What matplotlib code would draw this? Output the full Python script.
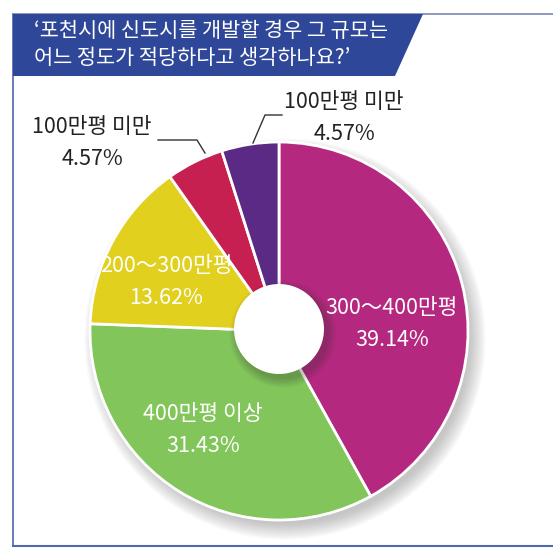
import matplotlib
matplotlib.use('Agg')
import matplotlib.pyplot as plt
from matplotlib.patches import Polygon, Circle

plt.rcParams['font.family'] = ['Noto Sans CJK KR', 'DejaVu Sans']

# data
title_lines = ['‘포천시에 신도시를 개발할 경우 그 규모는', '어느 정도가 적당하다고 생각하나요?’']
categories = ['300～400만평', '400만평 이상', '200～300만평', '100만평 미만', '100만평 미만']
values = [39.14, 31.43, 13.62, 4.57, 4.57]
colors = ['#b5287f', '#82c55b', '#e2d01f', '#c5204f', '#5b2a84']

W, H = 553, 549


def Y(y):
    # pixel row -> axes y
    return H - y


fig, ax = plt.subplots(figsize=(W / 100, H / 100), dpi=100)
fig.subplots_adjust(0, 0, 1, 1)

cx, cy, r = 279, Y(331), 189

# soft shadow under the pie
for i in range(14):
    ax.add_patch(Circle((cx + 6, cy - 8), r - 4 + i * 1.2, color='#707070',
                        alpha=0.03, lw=0, zorder=0))

wedges, _ = ax.pie(values, colors=colors, startangle=90, counterclock=False,
                   center=(cx, cy), radius=r,
                   wedgeprops=dict(edgecolor='white', linewidth=2))

# hole with a little shadow
hx, hy, hr = 279, Y(329), 45
for i in range(8):
    ax.add_patch(Circle((hx + 4, hy - 5), hr + i * 1.2, color='#303030',
                        alpha=0.04, lw=0, zorder=3))
ax.add_patch(Circle((hx, hy), hr, color='white', lw=0, zorder=4))

# frame and title banner
frame = '#4f66b0'
ax.plot([13, 13], [Y(14), Y(546)], color=frame, lw=1.2, zorder=5)
ax.plot([13, W], [Y(546), Y(546)], color=frame, lw=1.5, zorder=5)
ax.plot([13, W], [Y(14), Y(14)], color='#7b86b5', lw=1.2, zorder=5)
ax.add_patch(Polygon([(13, Y(14)), (423, Y(14)), (395, Y(76)), (13, Y(76))],
                     closed=True, color='#2f4798', lw=0, zorder=6))
ax.text(34, Y(31), title_lines[0], color='white', fontsize=15,
        va='center', ha='left', zorder=7)
ax.text(34, Y(58), title_lines[1], color='white', fontsize=15,
        va='center', ha='left', zorder=7)

# labels
label_pos = [(392, 324), (203, 430), (166, 282), (92, 143), (344, 118)]
label_col = ['white', 'white', 'white', '#222222', '#222222']
for name, v, (lx, ly), c in zip(categories, values, label_pos, label_col):
    ax.text(lx, Y(ly), f'{name}\n{v:.2f}%', color=c, fontsize=15.5,
            ha='center', va='center', linespacing=1.55, zorder=8)

# leader lines
ax.plot([158, 197, 205], [Y(140), Y(140), Y(153)], color='#333333', lw=1, zorder=8)
ax.plot([253, 265, 282], [Y(143), Y(115), Y(115)], color='#333333', lw=1, zorder=8)

ax.set_xlim(0, W)
ax.set_ylim(0, H)
ax.set_aspect('auto')
ax.axis('off')

fig.savefig('out.png', dpi=100, facecolor='white')
